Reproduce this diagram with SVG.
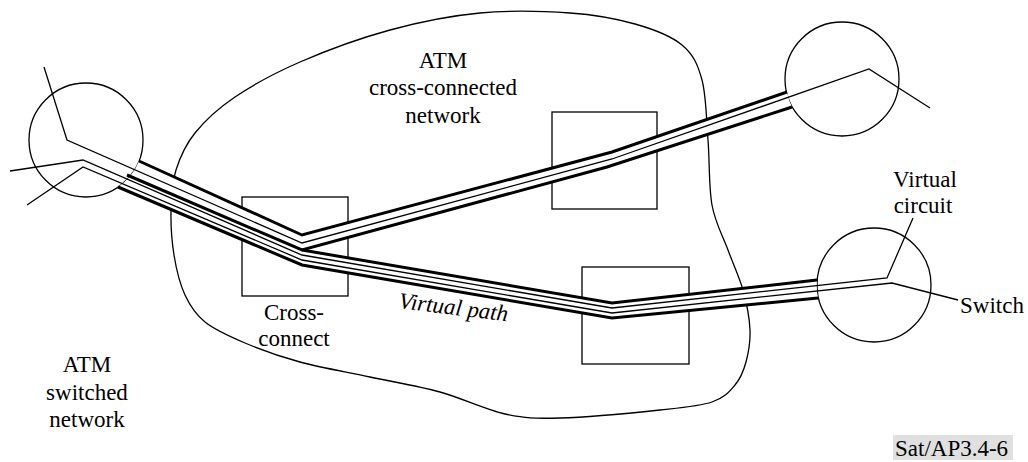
<svg xmlns="http://www.w3.org/2000/svg" width="1028" height="462" viewBox="0 0 1028 462">
<style>
.o{fill:none;stroke:#000;stroke-width:1.3}
.w{fill:#fff;stroke:none}
.k{fill:none;stroke:#000;stroke-width:3;stroke-linejoin:miter}
.t{fill:none;stroke:#000;stroke-width:1.3;stroke-linejoin:miter}
text{font-family:"Liberation Serif","Times New Roman",serif;font-size:23px;fill:#000}
.c{text-anchor:middle}
</style>
<rect width="1028" height="462" fill="#fff"/>
<g id="atm-cross-connected-network">
<path class="o" d="M480,13 C510,10.2 544.2,11.2 570,13 C595.8,14.8 616.3,18.7 635,24 C653.7,29.3 670.8,35.7 682,45 C693.2,54.3 697.7,64.2 702,80 C706.3,95.8 706.3,119.2 708,140 C709.7,160.8 708.7,186.7 712,205 C715.3,223.3 722.8,235.8 728,250 C733.2,264.2 739.3,276.7 743,290 C746.7,303.3 749.5,318 750,330 C750.5,342 748.5,352.8 746,362 C743.5,371.2 740.7,378.3 735,385 C729.3,391.7 724.5,397.8 712,402 C699.5,406.2 685.3,407.3 660,410 C634.7,412.7 585.8,417.3 560,418 C534.2,418.7 525,418.3 505,414 C485,409.7 462.5,398.2 440,392 C417.5,385.8 393.3,382 370,377 C346.7,372 320.8,367.7 300,362 C279.2,356.3 260.8,349.7 245,343 C229.2,336.3 215,330 205,322 C195,314 190.2,306.2 185,295 C179.8,283.8 176.3,269.2 174,255 C171.7,240.8 170.7,224.2 171,210 C171.3,195.8 172,182.8 176,170 C180,157.2 185.2,145.2 195,133 C204.8,120.8 217.5,108.8 235,97 C252.5,85.2 274.2,73.2 300,62 C325.8,50.8 360,38.2 390,30 C420,21.8 450,15.8 480,13 Z"/>
<text class="c" x="443" y="68">ATM</text>
<text class="c" x="443" y="95">cross-connected</text>
<text class="c" x="443" y="123">network</text>
</g>
<g id="switch-left"><circle class="o" cx="86" cy="140" r="57"/></g>
<g id="switch-top-right"><circle class="o" cx="842" cy="79" r="57"/></g>
<g id="switch-right"><circle class="o" cx="874" cy="285" r="57"/></g>
<g id="cross-connect-1"><rect class="o" x="242" y="197" width="106" height="99"/>
<text class="c" x="294" y="320">Cross-</text>
<text class="c" x="294" y="346">connect</text></g>
<g id="cross-connect-2"><rect class="o" x="552" y="112" width="105" height="97"/></g>
<g id="cross-connect-3"><rect class="o" x="582" y="267" width="107" height="97"/></g>
<g id="connectors">
<path class="w" d="M139,161 L302,235 L302,265 L118,187 A57,57 0 0 0 139,161 Z"/>
<path class="w" d="M302,235 L612,152 L787,92 A57,57 0 0 0 792,107 L607,167 L302,250 Z"/>
<path class="w" d="M302,250 L612,303 L817,280 A57,57 0 0 0 818,298 L612,318 L302,265 Z"/>
<polyline class="k" points="139,161 302,235 612,152 787,92"/>
<polyline class="k" points="127,175 302,250 607,167 792,107"/>
<polyline class="k" points="302,250 612,303 817,280"/>
<polyline class="k" points="118,187 302,265 612,318 818,298"/>
<polyline class="t" points="44,67 67,140 302,243 612,159 869,69 930,108"/>
<polyline class="t" points="10,171 83,160 302,255 612,308 887,278 913,218"/>
<polyline class="t" points="27,205 83,167 302,260 612,313 892,283 958,300"/>
</g>
<g id="labels">
<text x="398" y="308" font-style="italic" transform="rotate(7 398 308)">Virtual path</text>
<text class="c" x="925" y="187">Virtual</text>
<text class="c" x="923" y="213">circuit</text>
<text x="960" y="313">Switch</text>
<text class="c" x="87" y="372">ATM</text>
<text class="c" x="87" y="400">switched</text>
<text class="c" x="87" y="427">network</text>
<rect x="893" y="435" width="120" height="25" fill="#e0e0e0"/>
<text x="895" y="456">Sat/AP3.4-6</text>
</g>
</svg>
